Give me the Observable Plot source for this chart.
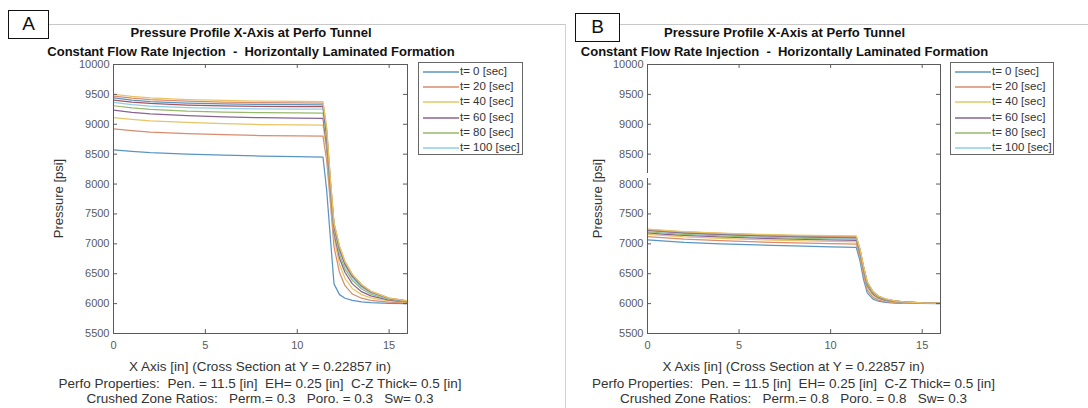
<!DOCTYPE html>
<html>
<head>
<meta charset="utf-8">
<script src="https://cdn.jsdelivr.net/npm/d3@7"></script>
<script src="https://cdn.jsdelivr.net/npm/@observablehq/plot@0.6"></script>
<style>
  html, body { margin: 0; padding: 0; background: #fff; }
  #root { position: relative; width: 1088px; height: 408px; overflow: hidden; font-family: "Liberation Sans", Arial, sans-serif; }
  .abs { position: absolute; }
  .title { font-weight: bold; font-size: 13px; color: #111; white-space: pre; text-align: center; line-height: 15px; }
  .xlab { font-size: 13.5px; color: #333; white-space: pre; text-align: center; line-height: 15px; }
  .ylab { font-size: 13px; color: #333; white-space: pre; text-align: center; line-height: 15px; }
  .legend { border: 1px solid #666; background: #fff; box-sizing: border-box; }
  .legend .txt { font-size: 11.5px; color: #333; line-height: 13px; white-space: pre; }
</style>
</head>
<body>
<div id="root"></div>
<script>
// ---------------- DATA ----------------
const xPositions = [0, 1, 2, 4, 6, 8, 10, 11.4, 11.6, 11.8, 12.0, 12.3, 12.6, 13.0, 13.5, 14.0, 15.0, 16.0];
const times = [0, 20, 40, 60, 80, 100, 120, 140, 160, 180];
const legendTimes = [0, 20, 40, 60, 80, 100];
const xTicks = [0, 5, 10, 15];
const yTicks = [5500, 6000, 6500, 7000, 7500, 8000, 8500, 9000, 9500, 10000];

// Panel A (Perm = 0.3, Poro = 0.3)
const panelA_t0   = [8570,8545,8525,8500,8482,8468,8458,8452,7900,7110,6330,6150,6090,6055,6030,6015,6005,6000];
const panelA_t20  = [8925,8895,8870,8845,8825,8812,8805,8800,8400,7700,6950,6520,6300,6160,6090,6055,6025,6012];
const panelA_t40  = [9110,9080,9055,9030,9010,8995,8988,8985,8550,7800,7100,6660,6420,6250,6150,6095,6045,6022];
const panelA_t60  = [9235,9200,9175,9145,9125,9110,9103,9100,8650,7880,7180,6760,6520,6330,6200,6130,6060,6030];
const panelA_t80  = [9310,9275,9250,9220,9205,9195,9190,9188,8720,7930,7230,6830,6580,6390,6245,6160,6072,6035];
const panelA_t100 = [9365,9330,9305,9280,9265,9258,9255,9253,8780,7970,7270,6880,6630,6430,6275,6180,6080,6038];
const panelA_t120 = [9405,9372,9348,9322,9308,9300,9297,9295,8830,8000,7300,6910,6660,6455,6295,6195,6085,6040];
const panelA_t140 = [9440,9405,9380,9355,9340,9332,9328,9326,8880,8040,7325,6935,6685,6472,6308,6202,6089,6042];
const panelA_t160 = [9472,9438,9412,9386,9370,9362,9358,9355,8920,8075,7342,6952,6698,6484,6316,6207,6091,6044];
const panelA_t180 = [9500,9465,9440,9413,9398,9388,9383,9380,8950,8100,7355,6962,6705,6490,6320,6210,6092,6045];

// Panel B (Perm = 0.8, Poro = 0.8)
const panelB_t0   = [7068,7045,7025,7000,6982,6965,6950,6942,6720,6400,6180,6080,6040,6020,6010,6005,6002,6000];
const panelB_t20  = [7120,7098,7078,7052,7032,7015,7002,6995,6780,6470,6230,6110,6060,6032,6018,6010,6004,6002];
const panelB_t40  = [7160,7136,7115,7090,7070,7052,7040,7032,6820,6520,6270,6140,6080,6045,6026,6015,6006,6003];
const panelB_t60  = [7185,7160,7140,7115,7095,7078,7065,7058,6850,6550,6300,6165,6095,6055,6032,6020,6008,6004];
const panelB_t80  = [7205,7180,7160,7135,7114,7097,7084,7078,6870,6575,6320,6180,6105,6062,6037,6023,6010,6005];
const panelB_t100 = [7218,7194,7174,7148,7128,7111,7098,7092,6885,6590,6335,6190,6112,6068,6040,6025,6011,6005];
const panelB_t120 = [7228,7204,7184,7158,7138,7121,7109,7103,6895,6600,6345,6198,6118,6072,6042,6027,6012,6006];
const panelB_t140 = [7236,7212,7192,7166,7146,7129,7117,7112,6903,6608,6352,6204,6122,6075,6044,6028,6012,6006];
const panelB_t160 = [7242,7218,7198,7173,7153,7136,7124,7120,6910,6615,6358,6208,6125,6077,6045,6029,6013,6006];
const panelB_t180 = [7248,7224,7204,7180,7160,7144,7136,7132,6918,6622,6365,6212,6128,6080,6047,6030,6013,6007];

// Text
const title1 = "Pressure Profile X-Axis at Perfo Tunnel";
const title2 = "Constant Flow Rate Injection  -  Horizontally Laminated Formation";
const xLabel = "X Axis [in] (Cross Section at Y = 0.22857 in)";
const yLabel = "Pressure [psi]";
const perfoLine = "Perfo Properties:  Pen. = 11.5 [in]  EH= 0.25 [in]  C-Z Thick= 0.5 [in]";
const crushedA = "Crushed Zone Ratios:   Perm.= 0.3   Poro. = 0.3   Sw= 0.3";
const crushedB = "Crushed Zone Ratios:   Perm.= 0.8   Poro. = 0.8   Sw= 0.3";

// Styles (MATLAB default order, washed out as in the picture)
const seriesColors = ["#5a95c2", "#d98c6e", "#e8c466", "#8a6393", "#98b86c", "#8dcfe6", "#a8545d"];

// ---------------- BUILD ----------------
const root = document.getElementById("root");
const labelOf = t => `t= ${t} [sec]`;
const colorDomain = times.map(labelOf);
const colorRange = times.map((t, i) => seriesColors[i % seriesColors.length]);

function table(seriesArrays) {
  const rows = [];
  times.forEach((t, i) => {
    seriesArrays[i].forEach((p, j) => rows.push({series: labelOf(t), x: xPositions[j], p}));
  });
  return rows;
}
const dataA = table([panelA_t0, panelA_t20, panelA_t40, panelA_t60, panelA_t80, panelA_t100, panelA_t120, panelA_t140, panelA_t160, panelA_t180]);
const dataB = table([panelB_t0, panelB_t20, panelB_t40, panelB_t60, panelB_t80, panelB_t100, panelB_t120, panelB_t140, panelB_t160, panelB_t180]);

function el(tag, cls, style, text) {
  const e = document.createElement(tag);
  if (cls) e.className = cls;
  Object.assign(e.style, style);
  if (text != null) e.textContent = text;
  root.appendChild(e);
  return e;
}

function panel(cfg) {
  const xd = [0, 16], yd = [5500, 10000];
  const tx = 0.22, ty = 65;
  const chart = Plot.plot({
    width: cfg.w, height: 306,
    marginLeft: cfg.ml, marginRight: cfg.mr, marginTop: 10, marginBottom: 27,
    style: {fontFamily: "'Liberation Sans', Arial, sans-serif", fontSize: "11px", color: "#5a5a5a", background: "transparent"},
    x: {domain: xd},
    y: {domain: yd},
    color: {domain: colorDomain, range: colorRange},
    marks: [
      Plot.line(cfg.data, {x: "x", y: "p", z: "series", stroke: "series", strokeWidth: 1.25}),
      Plot.frame({stroke: "#5a5a5a", strokeWidth: 1}),
      Plot.ruleY(yTicks, {x1: xd[0], x2: xd[0] + tx, stroke: "#5a5a5a"}),
      Plot.ruleY(yTicks, {x1: xd[1] - tx, x2: xd[1], stroke: "#5a5a5a"}),
      Plot.ruleX(xTicks, {y1: yd[0], y2: yd[0] + ty, stroke: "#5a5a5a"}),
      Plot.ruleX(xTicks, {y1: yd[1] - ty, y2: yd[1], stroke: "#5a5a5a"}),
      Plot.axisX({ticks: xTicks, tickSize: 0, tickPadding: 8, label: null, tickFormat: d => String(d)}),
      Plot.axisY({ticks: yTicks, tickSize: 0, tickPadding: 4, label: null, tickFormat: d => String(d)})
    ]
  });
  chart.style.position = "absolute";
  chart.style.left = cfg.left + "px";
  chart.style.top = "54px";
  root.appendChild(chart);

  const axL = cfg.left + cfg.ml, axR = cfg.left + cfg.w - cfg.mr;
  const cx = (axL + axR) / 2;
  const tcx = cx - 9;
  // titles
  el("div", "abs title", {left: (tcx - 250) + "px", top: "25px", width: "500px"}, title1);
  el("div", "abs title", {left: (tcx - 250) + "px", top: "44px", width: "500px"}, title2);
  // y label
  el("div", "abs ylab", {left: (cfg.yLabX - 60) + "px", top: "191px", width: "120px", transform: "rotate(-90deg)"}, yLabel);
  // bottom labels
  el("div", "abs xlab", {left: (cx - 250) + "px", top: "359px", width: "500px"}, xLabel);
  el("div", "abs xlab", {left: (cx - 250) + "px", top: "376px", width: "500px"}, perfoLine);
  el("div", "abs xlab", {left: (cx - 250) + "px", top: "391px", width: "500px"}, cfg.crushed);
  // legend
  const lg = el("div", "abs legend", {left: cfg.lgX + "px", top: "62px", width: cfg.lgW + "px", height: "93px"});
  legendTimes.forEach((t, i) => {
    const y = 9 + i * 15.2;
    const ln = document.createElementNS("http://www.w3.org/2000/svg", "svg");
    ln.setAttribute("width", "40"); ln.setAttribute("height", "4");
    Object.assign(ln.style, {position: "absolute", left: "4px", top: (y - 2) + "px"});
    const l = document.createElementNS("http://www.w3.org/2000/svg", "line");
    l.setAttribute("x1", "0"); l.setAttribute("x2", "36"); l.setAttribute("y1", "2"); l.setAttribute("y2", "2");
    l.setAttribute("stroke", colorRange[times.indexOf(t)]); l.setAttribute("stroke-width", "1.3");
    ln.appendChild(l);
    lg.appendChild(ln);
    const tx2 = document.createElement("div");
    tx2.className = "abs txt";
    Object.assign(tx2.style, {left: "41px", top: (y - 7) + "px"});
    tx2.textContent = labelOf(t);
    lg.appendChild(tx2);
  });
  // panel letter box
  el("div", "abs", {left: cfg.boxX + "px", top: cfg.boxY + "px", width: cfg.boxW + "px", height: "29px", border: "1.5px solid #111", boxSizing: "border-box", background: "#fff", fontSize: "19px", lineHeight: "26px", textAlign: "center", color: "#111"}, cfg.letter);
}

// borders of the pasted images
el("div", "abs", {left: "49px", top: "24px", width: "517px", height: "1px", background: "#c8c8c8"});
el("div", "abs", {left: "565px", top: "24px", width: "1px", height: "384px", background: "#d0d0d0"});
el("div", "abs", {left: "620px", top: "24px", width: "468px", height: "1px", background: "#c8c8c8"});

panel({data: dataA, left: 0, w: 545, ml: 113, mr: 138, yLabX: 58, crushed: crushedA,
       lgX: 418, lgW: 105, letter: "A", boxX: 8, boxY: 10, boxW: 41});
panel({data: dataB, left: 545, w: 543, ml: 102, mr: 148, yLabX: 597, crushed: crushedB,
       lgX: 950, lgW: 104, letter: "B", boxX: 575, boxY: 13, boxW: 45});

// small break in panel B's y axis, as in the picture
el("div", "abs", {left: "640px", top: "173px", width: "12px", height: "5px", background: "#fff"});
</script>
</body>
</html>
